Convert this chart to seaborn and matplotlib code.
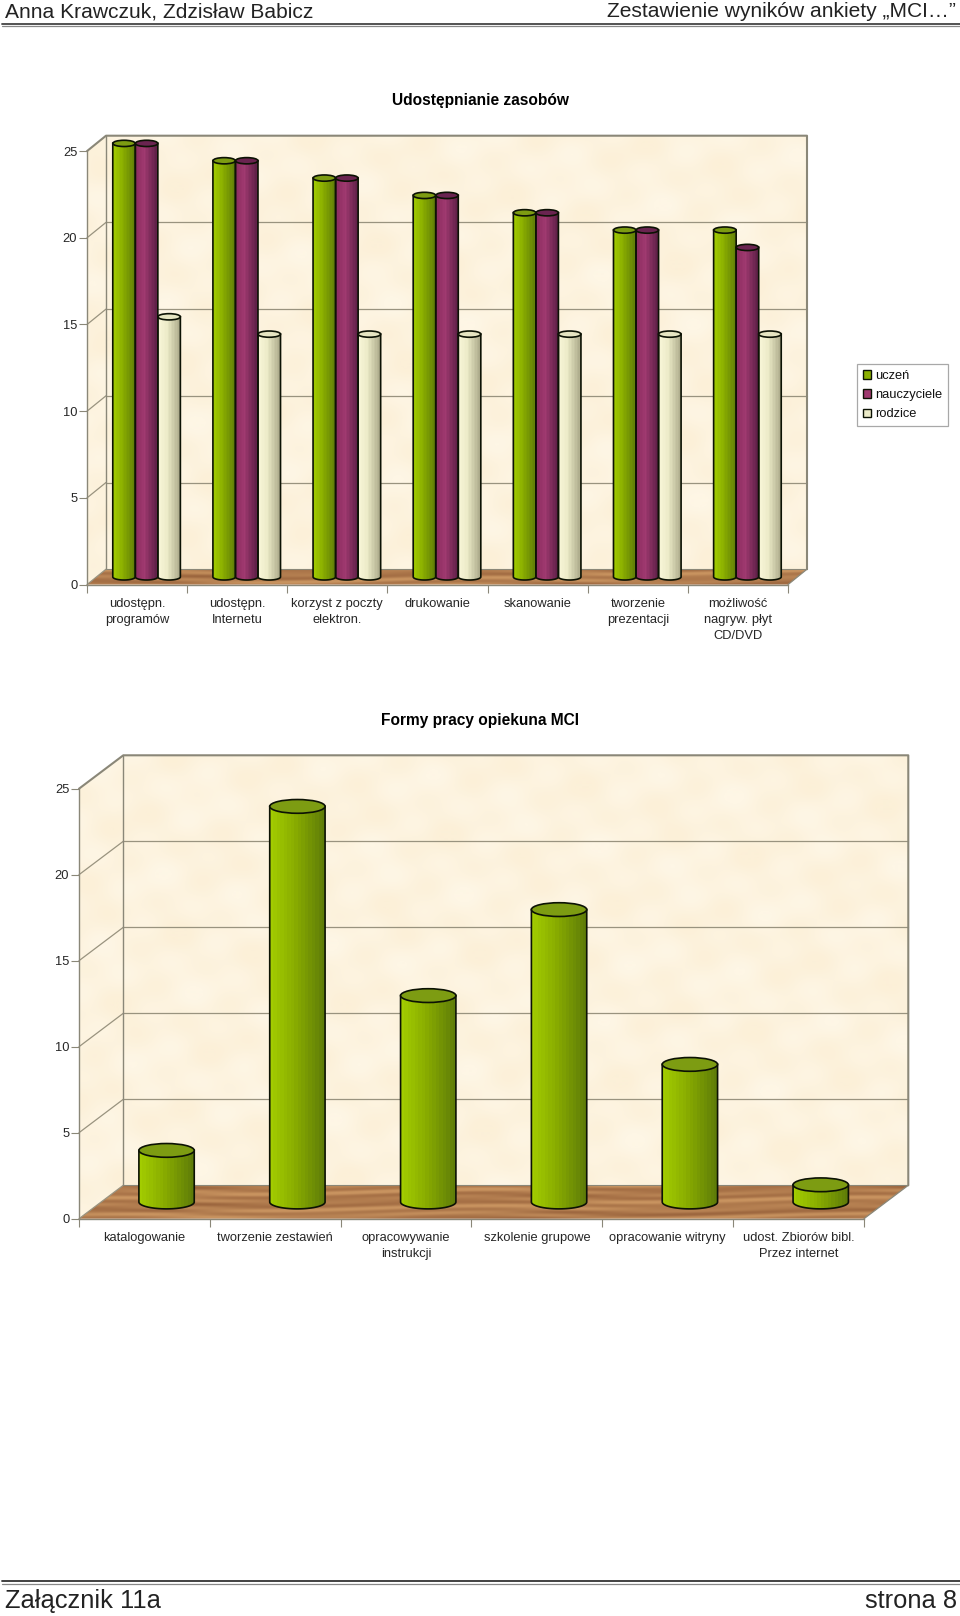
import numpy as np
import pandas as pd
import matplotlib
matplotlib.use("Agg")
import matplotlib.pyplot as plt
import seaborn as sns
from matplotlib.patches import Polygon, Ellipse, Patch
from matplotlib.colors import to_rgb

W, H = 960, 1616

# chart 1
cats1 = ["udostępn.\nprogramów", "udostępn.\nInternetu", "korzyst z poczty\nelektron.",
         "drukowanie", "skanowanie", "tworzenie\nprezentacji",
         "możliwość\nnagryw. płyt\nCD/DVD"]
uczen = [25, 24, 23, 22, 21, 20, 20]
nauczyciele = [25, 24, 23, 22, 21, 20, 19]
rodzice = [15, 14, 14, 14, 14, 14, 14]
series_names = ["uczeń", "nauczyciele", "rodzice"]

# chart 2
cats2 = ["katalogowanie", "tworzenie zestawień", "opracowywanie\ninstrukcji",
         "szkolenie grupowe", "opracowanie witryny", "udost. Zbiorów bibl.\nPrzez internet"]
formy = [3, 23, 12, 17, 8, 1]

yticks = [0, 5, 10, 15, 20, 25]

# left colour, middle colour, right colour, top of the cylinder
shades = {
    "uczeń": ("#a2cc00", "#8cb000", "#5f7d08", "#7d9c12"),
    "nauczyciele": ("#8c2d60", "#a03a70", "#5a1e45", "#6a2450"),
    "rodzice": ("#f8f6d8", "#ecebc8", "#aaa888", "#e6e5c2"),
}
GRID = "#99937f"
EDGE = "#8a8778"
LABEL = 9.3

sns.set_style("white")
plt.rcParams["font.family"] = ["Liberation Sans", "DejaVu Sans"]
plt.rcParams["text.color"] = "#111111"

fig = plt.figure(figsize=(W / 100, H / 100), dpi=100)
page = fig.add_axes([0, 0, 1, 1], zorder=0)
page.set_xlim(0, W)
page.set_ylim(H, 0)
page.axis("off")


def px_axes(left, top, right, bottom, zorder):
    ax = fig.add_axes([left / W, 1 - bottom / H, (right - left) / W, (bottom - top) / H], zorder=zorder)
    ax.patch.set_alpha(0)
    return ax


def textured(poly, kind):
    xs = [p[0] for p in poly]
    ys = [p[1] for p in poly]
    x0, x1, y0, y1 = min(xs), max(xs), min(ys), max(ys)
    xx, yy = np.meshgrid(np.arange(x0, x1 + 1), np.arange(y0, y1 + 1))
    if kind == "wood":
        v = np.sin(yy * 0.75 + np.sin(xx / 60) * 2) + 0.7 * np.sin(yy * 0.31 + xx / 120) + 0.4 * np.sin(xx / 37 + yy * 1.1)
        low, high = np.array(to_rgb("#99633c")), np.array(to_rgb("#c99460"))
        t = np.clip(v / 4 + 0.55, 0, 1)[..., None]
    else:
        v = np.sin(xx / 17 + yy / 29) + np.sin(xx / 9 - yy / 13) + np.sin(xx / 43 - yy / 15) + np.sin(yy / 7 + xx / 19)
        low, high = np.array(to_rgb("#fcf0d8")), np.array(to_rgb("#fef6e5"))
        t = np.clip(v / 6 + 0.5, 0, 1)[..., None]
    im = page.imshow(low + (high - low) * t, extent=(x0, x1, y1, y0), aspect="auto", zorder=1)
    clip = Polygon(poly, closed=True, transform=page.transData, facecolor="none", edgecolor="none")
    page.add_patch(clip)
    im.set_clip_path(clip)
    page.set_xlim(0, W)
    page.set_ylim(H, 0)


def cylinders(ax, ell_h):
    for bar in ax.patches:
        v = bar.get_height()
        if v <= 0:
            continue
        x0 = bar.get_x()
        w = bar.get_width()
        x1 = x0 + w
        xm = x0 + w / 2
        name = bar.get_gid()
        left, mid, right, top = shades[name]
        t = np.linspace(np.pi, 2 * np.pi, 40)
        outline = [(x0, v)] + list(zip(xm + w / 2 * np.cos(t), ell_h / 2 * np.sin(t))) + [(x1, v)]
        stops = np.interp(np.linspace(0, 1, 16), [0, 0.4, 1], [0, 1, 2])
        cols = np.array([to_rgb(left), to_rgb(mid), to_rgb(right)])
        grad = np.array([[np.interp(s, [0, 1, 2], cols[:, i]) for i in range(3)] for s in stops])[None, ...]
        im = ax.imshow(grad, extent=(x0, x1, -ell_h, v), aspect="auto", interpolation="nearest", zorder=3)
        body = Polygon(outline, closed=True, facecolor="none", edgecolor="#0c1204", lw=1.2, zorder=4, clip_on=False)
        ax.add_patch(body)
        # the base ellipse hangs below y=0, so the axes box must not cut it
        im.set_clip_box(fig.bbox)
        im.set_clip_path(body)
        ax.add_patch(Ellipse((xm, v), w, ell_h, facecolor=top, edgecolor="#0c1204", lw=1.2, zorder=5, clip_on=False))
        bar.set_visible(False)
    ax.set_xlim(-0.5, ax.n_cats - 0.5)
    ax.set_ylim(0, 25)


def chart(cats, df, hue, width, left, right, base, unit, dx, dy, ell_h, title, title_y):
    n = len(cats)
    top = base - 25 * unit
    # walls and floor
    textured([(left + dx, top - dy), (right + dx, top - dy), (right + dx, base - dy), (left + dx, base - dy)], "wall")
    textured([(left, top), (left + dx, top - dy), (left + dx, base - dy), (left, base)], "wall")
    textured([(left, base), (right, base), (right + dx, base - dy), (left + dx, base - dy)], "wood")
    for v in yticks[1:-1]:
        y = base - v * unit
        page.plot([left + dx, right + dx], [y - dy, y - dy], color=GRID, lw=0.9, zorder=2)
    for v in yticks[:-1]:
        y = base - v * unit
        page.plot([left, left + dx], [y, y - dy], color=GRID, lw=0.9, zorder=2)
    page.plot([left, left + dx, right + dx, right + dx], [top, top - dy, top - dy, base - dy], color=EDGE, lw=1.5, zorder=2)
    page.plot([left + dx, left + dx], [top - dy, base - dy], color=EDGE, lw=1.0, zorder=2)
    page.plot([left + dx, right + dx], [base - dy, base - dy], color=EDGE, lw=0.8, zorder=2)
    page.plot([right, right + dx], [base, base - dy], color=EDGE, lw=0.9, zorder=2)
    page.text(480, title_y, title, ha="center", va="center", fontsize=11.2, fontweight="bold", color="black")

    # front axes carry the ticks and labels
    front = px_axes(left, top, right, base, 1)
    front.set_xlim(0, n)
    front.set_ylim(0, 25)
    sns.despine(ax=front, top=True, right=True)
    for side in ("left", "bottom"):
        front.spines[side].set_color(EDGE)
        front.spines[side].set_linewidth(1.0)
    front.set_yticks(yticks)
    front.set_xticks(range(n + 1))
    front.set_xticklabels([])
    front.set_xticks(np.arange(n) + 0.5, minor=True)
    front.set_xticklabels(cats, minor=True, fontsize=LABEL, linespacing=1.45)
    front.tick_params(axis="both", which="major", length=5.5, width=0.8, color=EDGE, left=True, bottom=True, labelsize=LABEL, pad=1.5)
    front.tick_params(axis="x", which="minor", length=0, pad=9.5)

    # bars sit half way into the depth of the box
    bars = px_axes(left + dx / 2, top - dy / 2, right + dx / 2, base - dy / 2, 2)
    sns.barplot(data=df, x="cat", y="value", hue=hue, order=cats, width=width, gap=0, dodge=df[hue].nunique() > 1,
                palette={k: v[1] for k, v in shades.items()}, legend=False, ax=bars)
    names = list(df[hue].unique())
    for i, bar in enumerate(bars.patches):
        bar.set_gid(names[i // n] if len(names) > 1 else names[0])
    bars.n_cats = n
    cylinders(bars, ell_h)
    bars.axis("off")
    return bars


df1 = pd.DataFrame({"cat": cats1, "uczeń": uczen, "nauczyciele": nauczyciele, "rodzice": rodzice})
df1 = df1.melt(id_vars="cat", var_name="seria", value_name="value")
df2 = pd.DataFrame({"cat": cats2, "value": formy, "seria": "uczeń"})

ax1 = chart(cats1, df1, "seria", 0.675, 87, 788, 584.6, 17.34, 19, 15.4, 0.36,
            "Udostępnianie zasobów", 101)
chart(cats2, df2, "seria", 0.423, 79, 864, 1218.7, 17.2, 44.3, 33.4, 0.8,
      "Formy pracy opiekuna MCI", 720)

handles = [Patch(facecolor=shades[n][1], edgecolor="#0c1204", lw=1.0) for n in series_names]
leg = ax1.legend(handles, series_names, loc="upper left", bbox_to_anchor=(857 / W, 1 - 364 / H),
                 bbox_transform=fig.transFigure, fontsize=LABEL, frameon=True, fancybox=False,
                 edgecolor="#a8a8a8", framealpha=1, handlelength=0.66, handleheight=0.66,
                 handletextpad=0.25, labelspacing=0.56, borderpad=0.46, borderaxespad=0)
leg.get_frame().set_linewidth(0.9)

# page header and footer
page.text(5, 17, "Anna Krawczuk, Zdzisław Babicz", fontsize=15.1, va="baseline", color="#222222")
page.text(956, 17, "Zestawienie wyników ankiety „MCI…”", fontsize=15.1, va="baseline", ha="right", color="#222222")
page.plot([2, 960], [23.5, 23.5], color="#444444", lw=1.3)
page.plot([2, 960], [25.5, 25.5], color="#888888", lw=0.9)
page.plot([2, 960], [1581, 1581], color="#333333", lw=1.3)
page.plot([2, 960], [1583.5, 1583.5], color="#888888", lw=0.9)
page.text(5, 1608, "Załącznik 11a", fontsize=18.4, va="baseline", color="#222222")
page.text(957, 1608, "strona 8", fontsize=18.4, va="baseline", ha="right", color="#222222")

fig.savefig("out.png", dpi=100)
